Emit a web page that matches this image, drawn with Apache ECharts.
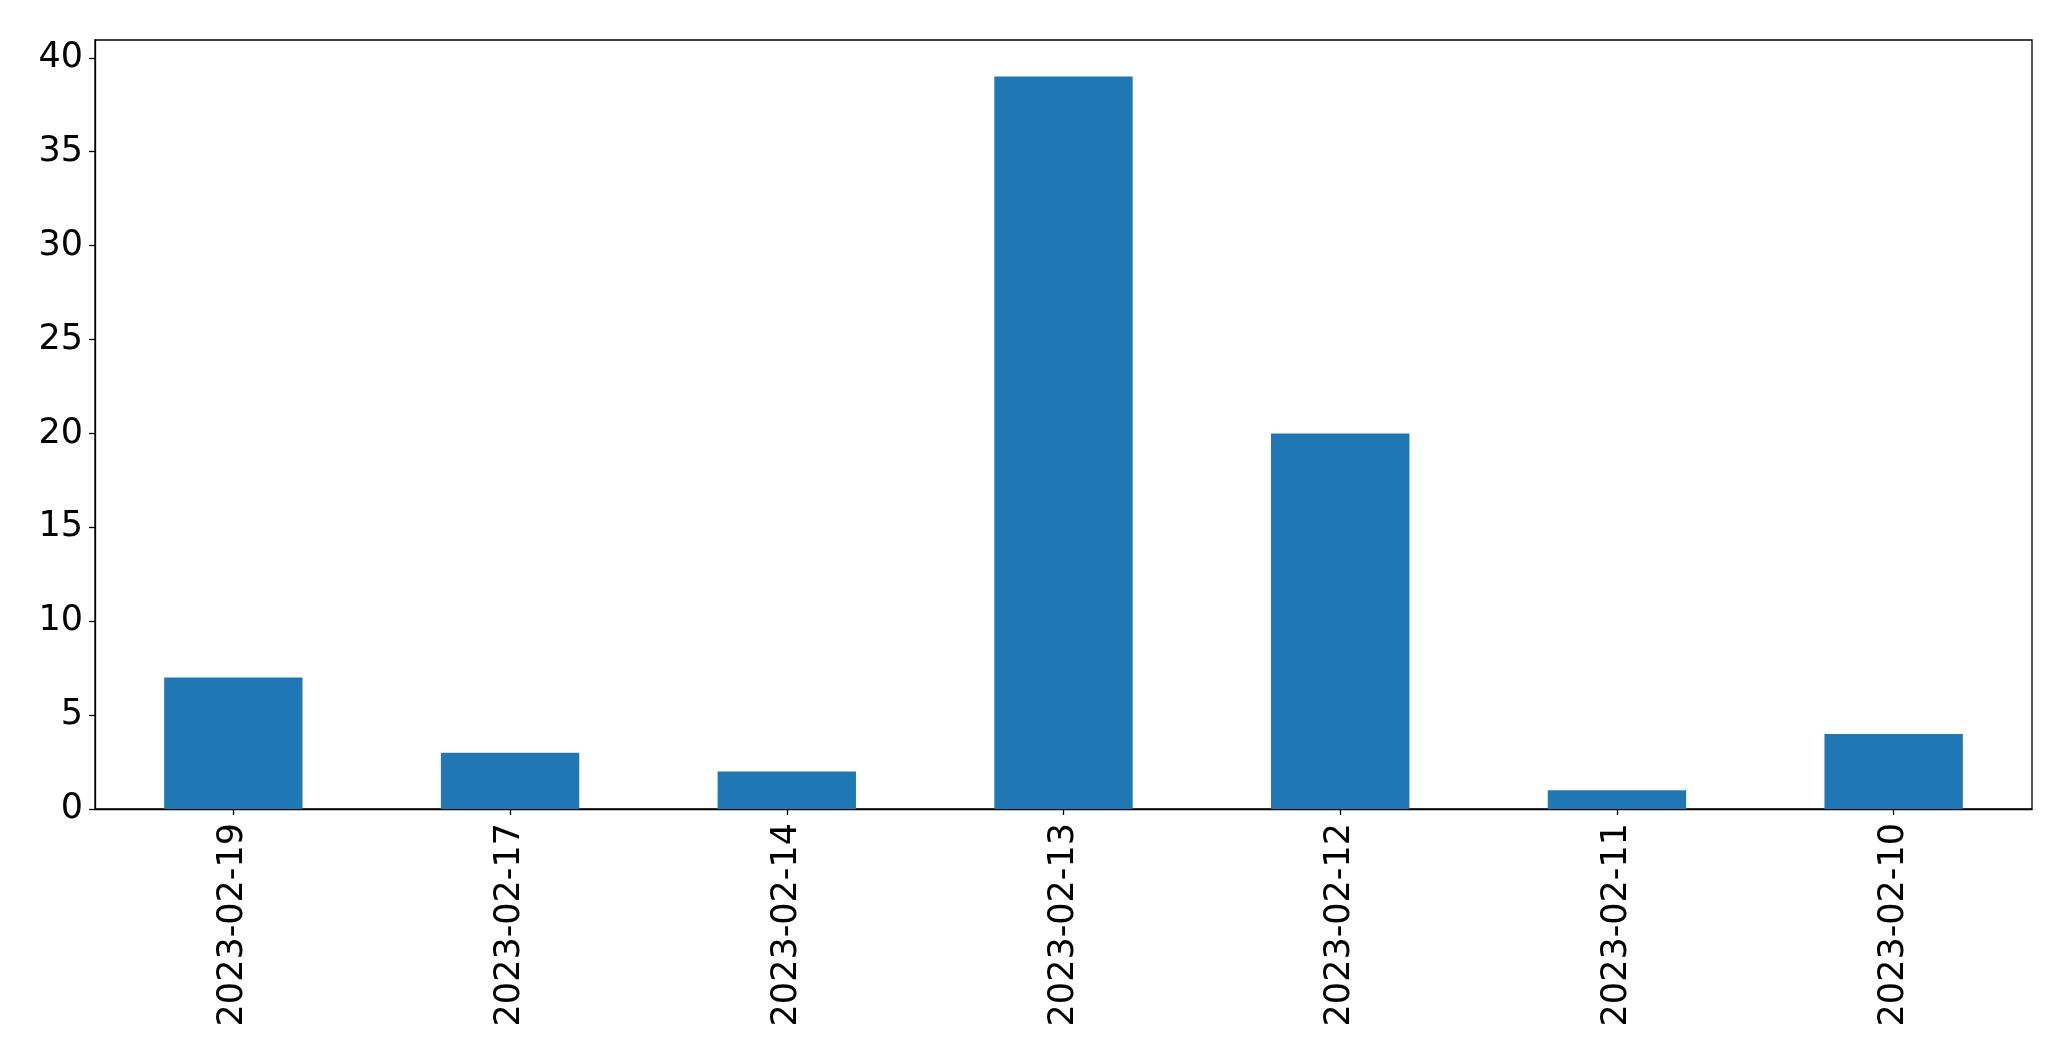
<!DOCTYPE html>
<html>
<head>
<meta charset="utf-8">
<script src="https://cdn.jsdelivr.net/npm/echarts@6/dist/echarts.min.js"></script>
<style>
html,body{margin:0;padding:0;background:#fff;}
#chart{width:2071px;height:1061px;}
</style>
</head>
<body>
<div id="chart"></div>
<script>
const categories = ['2023-02-19','2023-02-17','2023-02-14','2023-02-13','2023-02-12','2023-02-11','2023-02-10'];
const values = [7, 3, 2, 39, 20, 1, 4];
const yTicks = [0, 5, 10, 15, 20, 25, 30, 35, 40];
const yMax = 40.95;

const chart = echarts.init(document.getElementById('chart'), null, {renderer: 'canvas'});
const font = 'DejaVu Sans';
chart.setOption({
  animation: false,
  backgroundColor: '#fff',
  grid: {
    left: 95, right: 39, top: 40, bottom: 252,
    show: true, borderColor: '#000', borderWidth: 1.3, backgroundColor: 'transparent'
  },
  xAxis: {
    type: 'category',
    data: categories,
    boundaryGap: true,
    axisLine: {show: true, lineStyle: {color: '#000', width: 1.3}},
    axisTick: {show: true, alignWithLabel: true, length: 6, lineStyle: {color: '#000', width: 1.3}},
    axisLabel: {rotate: 90, fontFamily: font, fontSize: 35, color: '#000', margin: 14, interval: 0},
    splitLine: {show: false}
  },
  yAxis: {
    type: 'value',
    min: 0,
    max: yMax,
    axisLine: {show: true, lineStyle: {color: '#000', width: 1.3}},
    axisTick: {show: true, length: 6, customValues: yTicks, lineStyle: {color: '#000', width: 1.3}},
    axisLabel: {fontFamily: font, fontSize: 35, color: '#000', margin: 12, customValues: yTicks},
    splitLine: {show: false}
  },
  series: [{
    type: 'bar',
    data: values,
    barWidth: '50%',
    itemStyle: {color: '#1f77b4'}
  }]
});
</script>
</body>
</html>
